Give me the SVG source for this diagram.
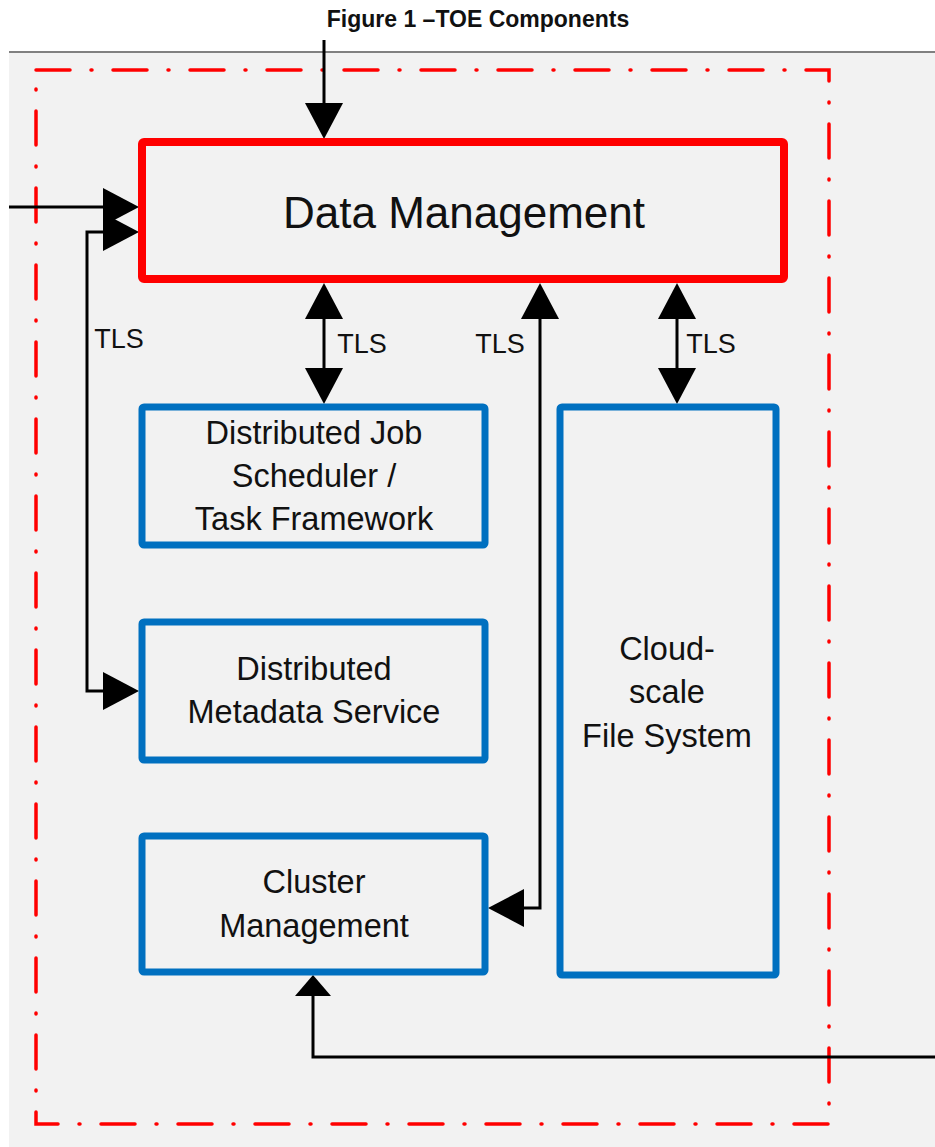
<svg xmlns="http://www.w3.org/2000/svg" width="935" height="1147" viewBox="0 0 935 1147">
<style>
.bg{fill:#f2f2f2}
.red{fill:none;stroke:#ff0000;stroke-width:8;stroke-linejoin:round}
.blue{fill:none;stroke:#0070c0;stroke-width:7;stroke-linejoin:round}
.toe{fill:none;stroke:#ff0000;stroke-width:3.5;stroke-dasharray:34 21 1 21;stroke-linecap:round}
.conn{fill:none;stroke:#000;stroke-width:3}
.lbl{font-family:"Liberation Sans",Arial,sans-serif;fill:#111;text-anchor:middle}
.t32{font-size:32.5px}
.tls{font-size:27px}
</style>
<defs>
<marker id="ah" markerUnits="userSpaceOnUse" markerWidth="38" markerHeight="38" viewBox="0 0 36 38" refX="0" refY="19" orient="auto-start-reverse">
<path d="M0,0 L36,19 L0,38 Z" fill="#000"/>
</marker>
<marker id="ahs" markerUnits="userSpaceOnUse" markerWidth="22" markerHeight="36" viewBox="0 0 21 36" refX="0" refY="18" orient="auto">
<path d="M0,0 L21,18 L0,36 Z" fill="#000"/>
</marker>
</defs>
<rect x="0" y="0" width="935" height="1147" fill="#ffffff"/>
<rect class="bg" x="9" y="52" width="926" height="1095"/>
<line x1="9" y1="52" x2="935" y2="52" stroke="#808080" stroke-width="2"/>
<text class="lbl" x="478" y="27" font-size="23" font-weight="bold">Figure 1 –TOE Components</text>
<rect id="toe-boundary" class="toe" x="36" y="70" width="793" height="1054"/>
<g id="connectors">
<path class="conn" d="M324,40 V103" marker-end="url(#ah)"/>
<path class="conn" d="M9,207 H103" marker-end="url(#ah)"/>
<path class="conn" d="M103,232 H87 V691 H103" marker-start="url(#ah)" marker-end="url(#ah)"/>
<path class="conn" d="M324,319 V368" marker-start="url(#ah)" marker-end="url(#ah)"/>
<path class="conn" d="M540,319 V908 H524" marker-start="url(#ah)" marker-end="url(#ah)"/>
<path class="conn" d="M677,319 V368" marker-start="url(#ah)" marker-end="url(#ah)"/>
<path class="conn" d="M935,1057 H313 V996" marker-end="url(#ahs)"/>
<text class="lbl tls" x="119" y="348">TLS</text>
<text class="lbl tls" x="362" y="353">TLS</text>
<text class="lbl tls" x="500" y="353">TLS</text>
<text class="lbl tls" x="711" y="353">TLS</text>
</g>
<g id="data-management">
<rect class="red" x="142" y="142" width="642" height="137" rx="2"/>
<text class="lbl" x="464" y="228" font-size="44">Data Management</text>
</g>
<g id="job-scheduler">
<rect class="blue" x="142" y="407" width="343" height="138" rx="2"/>
<text class="lbl t32" x="314" y="444">Distributed Job</text>
<text class="lbl t32" x="314" y="487">Scheduler /</text>
<text class="lbl t32" x="314" y="530">Task Framework</text>
</g>
<g id="metadata-service">
<rect class="blue" x="142" y="622" width="343" height="138" rx="2"/>
<text class="lbl t32" x="314" y="680">Distributed</text>
<text class="lbl t32" x="314" y="723">Metadata Service</text>
</g>
<g id="cluster-management">
<rect class="blue" x="142" y="836" width="343" height="136" rx="2"/>
<text class="lbl t32" x="314" y="893">Cluster</text>
<text class="lbl t32" x="314" y="937">Management</text>
</g>
<g id="file-system">
<rect class="blue" x="560" y="407" width="216" height="568" rx="2"/>
<text class="lbl t32" x="667" y="660">Cloud-</text>
<text class="lbl t32" x="667" y="703">scale</text>
<text class="lbl t32" x="667" y="747">File System</text>
</g>
</svg>
